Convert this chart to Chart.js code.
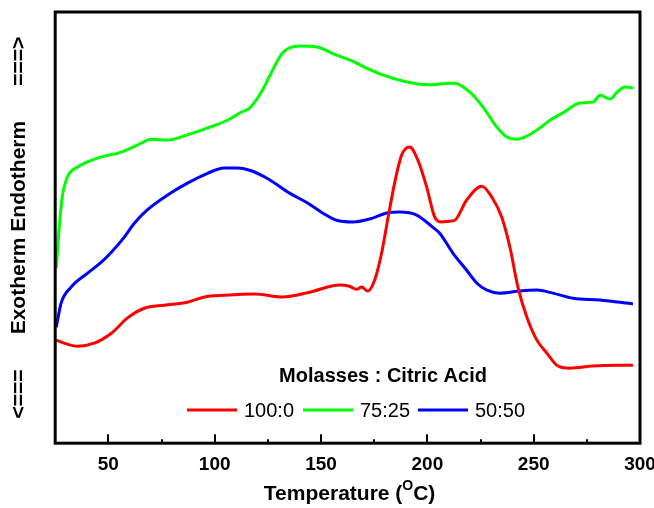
<!DOCTYPE html>
<html>
<head>
<meta charset="utf-8">
<script src="https://cdn.jsdelivr.net/npm/chart.js@4.4.1/dist/chart.umd.min.js"></script>
<style>
html,body{margin:0;padding:0;background:#fff;}
#wrap{width:654px;height:508px;}
</style>
</head>
<body>
<div id="wrap"><canvas id="c" width="654" height="508"></canvas></div>
<script>
// ---- data (temperature in °C, heat flow in arbitrary units) ----
const seriesLabels = ['100:0', '75:25', '50:50'];
const seriesColors = ['#ff0000', '#00ff00', '#0000ff'];
const legendTitle = 'Molasses : Citric Acid';
const xTitle = ['Temperature (', 'O', 'C)'];
const yTitle = '<===      Exotherm Endotherm      ===>';
const xTickValues = [50, 100, 150, 200, 250, 300];

const redT = [25.5, 29.2, 35.4, 43.4, 51.4, 58.9, 66.9, 76.3, 87.2, 95.2, 104.6, 118.7, 131.9, 144.6, 158.7, 163.4, 166.7, 169.1, 171.9, 175.2, 178.5, 181.3, 184.6, 187.9, 191.7, 195.5, 199.7, 203.5, 206.8, 210.5, 212.9, 218.5, 225.6, 230.3, 235.0, 238.8, 242.6, 246.8, 251.5, 256.2, 260.9, 267.0, 277.9, 296.7];
const redV = [23.9, 23.2, 22.5, 23.2, 25.5, 29.0, 31.3, 32.0, 32.7, 33.9, 34.3, 34.6, 33.9, 35.0, 36.7, 36.4, 35.7, 36.2, 35.3, 37.8, 44.1, 51.7, 60.3, 66.8, 68.7, 65.7, 59.4, 52.4, 51.3, 51.5, 51.7, 56.4, 59.6, 57.1, 52.4, 45.5, 36.2, 29.2, 23.9, 20.9, 18.1, 17.4, 17.9, 18.1];

const greenT = [25.5, 26.9, 28.3, 30.7, 35.4, 44.8, 56.1, 63.6, 70.2, 77.7, 87.2, 96.6, 106.0, 112.6, 116.4, 122.5, 127.2, 131.9, 139.9, 147.9, 157.3, 163.4, 171.4, 179.0, 188.4, 201.1, 210.5, 212.9, 220.0, 226.1, 232.7, 237.4, 242.1, 246.8, 252.9, 257.6, 263.7, 271.8, 277.9, 281.2, 285.9, 289.2, 293.0, 296.7];
const greenV = [40.6, 50.1, 57.1, 61.7, 64.0, 66.1, 67.5, 69.1, 70.5, 70.3, 71.5, 73.1, 74.9, 76.8, 77.7, 81.9, 86.5, 90.5, 92.1, 91.9, 90.0, 88.9, 87.0, 85.4, 84.0, 83.1, 83.5, 83.5, 81.4, 78.0, 73.3, 71.0, 70.5, 71.2, 73.1, 74.9, 76.6, 78.9, 79.1, 80.7, 79.8, 81.4, 82.6, 82.4];

const blueT = [25.5, 27.8, 32.5, 40.1, 46.7, 51.4, 57.5, 62.2, 68.3, 77.7, 87.2, 96.6, 104.6, 110.7, 116.4, 124.4, 135.2, 143.7, 150.7, 157.3, 164.9, 174.3, 180.9, 187.0, 195.0, 202.5, 205.8, 212.0, 218.5, 223.3, 228.0, 234.1, 243.5, 251.5, 259.0, 268.5, 281.2, 296.7];
const blueV = [26.9, 32.5, 36.2, 39.4, 42.0, 44.3, 47.8, 51.0, 54.1, 57.5, 60.3, 62.6, 63.8, 63.8, 63.3, 61.5, 58.0, 55.7, 53.4, 51.7, 51.3, 52.2, 53.4, 53.6, 52.9, 50.1, 48.7, 44.1, 40.1, 37.1, 35.5, 34.8, 35.3, 35.5, 34.8, 33.6, 33.2, 32.3];

const seriesT = [redT, greenT, blueT];
const seriesV = [redV, greenV, blueV];

const datasets = seriesLabels.map((lab, i) => ({
  label: lab,
  data: seriesT[i].map((t, k) => ({x: t, y: seriesV[i][k]})),
  borderColor: seriesColors[i],
  backgroundColor: seriesColors[i],
  borderWidth: 3,
  pointRadius: 0,
  fill: false,
  cubicInterpolationMode: 'monotone'
}));

const FONT = 'Arial, "Liberation Sans", Helvetica, sans-serif';

const framePlugin = {
  id: 'frame',
  afterDatasetsDraw(chart) {
    const {ctx, chartArea: a, scales} = chart;
    const xs = scales.x;
    ctx.save();
    // inward ticks on bottom axis
    ctx.strokeStyle = '#000';
    ctx.lineWidth = 2;
    for (let v = 25; v <= 300; v += 25) {
      const px = Math.round(xs.getPixelForValue(v));
      const len = (v % 50 === 0) ? 9 : 4;
      ctx.beginPath();
      ctx.moveTo(px, a.bottom);
      ctx.lineTo(px, a.bottom - len);
      ctx.stroke();
    }
    // frame
    ctx.lineWidth = 3;
    ctx.strokeRect(a.left, a.top, a.right - a.left, a.bottom - a.top);

    // x axis title with superscript
    const cx = (a.left + a.right) / 2 + 2;
    const ty = 494;
    ctx.fillStyle = '#000';
    ctx.textBaseline = 'middle';
    const big = 'bold 21px ' + FONT, small = 'bold 14px ' + FONT;
    ctx.font = big; const w1 = ctx.measureText(xTitle[0]).width;
    ctx.font = small; const w2 = ctx.measureText(xTitle[1]).width;
    ctx.font = big; const w3 = ctx.measureText(xTitle[2]).width;
    let sx = cx - (w1 + w2 + w3) / 2;
    ctx.textAlign = 'left';
    ctx.font = big; ctx.fillText(xTitle[0], sx, ty); sx += w1;
    ctx.font = small; ctx.fillText(xTitle[1], sx, ty - 8); sx += w2;
    ctx.font = big; ctx.fillText(xTitle[2], sx, ty);

    // legend inside plot
    ctx.textAlign = 'center';
    ctx.font = 'bold 20px ' + FONT;
    ctx.fillText(legendTitle, 383, 376);
    const itemX = [187, 303, 418];
    ctx.font = '20px ' + FONT;
    ctx.textAlign = 'left';
    chart.data.datasets.forEach((ds, i) => {
      ctx.strokeStyle = ds.borderColor;
      ctx.lineWidth = 3;
      ctx.beginPath();
      ctx.moveTo(itemX[i], 410);
      ctx.lineTo(itemX[i] + 50, 410);
      ctx.stroke();
      ctx.fillStyle = '#000';
      ctx.fillText(ds.label, itemX[i] + 57, 411);
    });
    ctx.restore();
  }
};

new Chart(document.getElementById('c'), {
  type: 'line',
  data: {datasets},
  options: {
    responsive: false,
    animation: false,
    layout: {padding: {left: 0, right: 14, top: 12, bottom: 22}},
    plugins: {legend: {display: false}, tooltip: {enabled: false}},
    scales: {
      x: {
        type: 'linear', min: 25, max: 300,
        grid: {display: false, drawTicks: false},
        border: {display: false},
        afterFit(scale) { scale.paddingRight = 0; scale.paddingLeft = 0; },
        ticks: {
          stepSize: 25, autoSkip: false, maxRotation: 0, padding: 10,
          color: '#000', font: {family: FONT, size: 19, weight: 'bold'},
          callback: v => xTickValues.includes(v) ? String(v) : ''
        }
      },
      y: {
        type: 'linear', min: 0, max: 100,
        grid: {display: false, drawTicks: false},
        border: {display: false},
        ticks: {display: false},
        title: {display: true, text: yTitle, color: '#000',
          font: {family: FONT, size: 21, weight: 'bold'},
          padding: {top: 7, bottom: 23}}
      }
    }
  },
  plugins: [framePlugin]
});
</script>
</body>
</html>
